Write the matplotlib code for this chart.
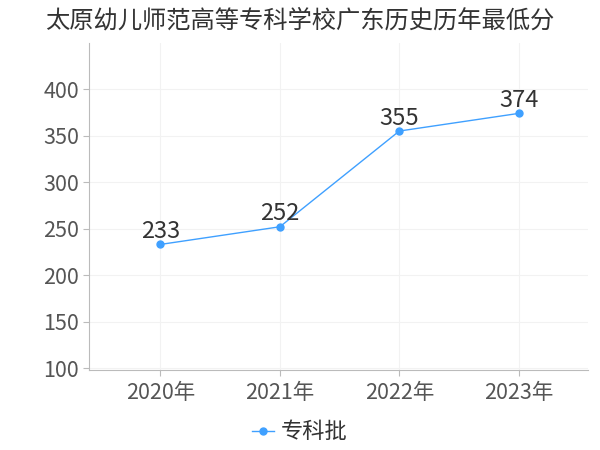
import matplotlib
matplotlib.use("Agg")
import matplotlib.pyplot as plt

plt.rcParams['font.family'] = ['Noto Sans CJK SC', 'DejaVu Sans']

title = "太原幼儿师范高等专科学校广东历史历年最低分"
years = ["2020年", "2021年", "2022年", "2023年"]
scores = [233, 252, 355, 374]
series_name = "专科批"
yticks = [100, 150, 200, 250, 300, 350, 400]

fig = plt.figure(figsize=(6, 4.5), dpi=100)
ax = fig.add_axes([0.148, 0.178, 0.832, 0.727])

x = range(len(years))
ax.plot(x, scores, color="#3fa0ff", linewidth=1, marker="o", markersize=5,
        label=series_name)
for xi, v in zip(x, scores):
    ax.annotate(str(v), (xi, v), textcoords="offset points", xytext=(0, 1),
                ha="center", va="bottom", fontsize=17, color="#333333")

ax.set_xlim(-0.6, 3.58)
ax.set_ylim(98, 450)
ax.set_xticks(list(x))
ax.set_xticklabels(years)
ax.set_yticks(yticks)
ax.tick_params(axis="both", labelsize=15.5, colors="#555555", length=4,
               color="#bbbbbb")
ax.tick_params(axis="x", pad=5)
ax.tick_params(axis="y", pad=3)
ax.grid(True, color="#f2f2f2", linewidth=0.8)
for s in ["top", "right"]:
    ax.spines[s].set_visible(False)
ax.spines["left"].set_color("#bbbbbb")
ax.spines["bottom"].set_color("#bbbbbb")

fig.text(0.5, 0.955, title, ha="center", va="center", fontsize=17.5,
         color="#333333")
fig.legend(loc="center", bbox_to_anchor=(0.5, 0.04), frameon=False,
           fontsize=16, handlelength=1.0, handletextpad=0.3,
           labelcolor="#333333")

fig.savefig("out.png", dpi=100)
